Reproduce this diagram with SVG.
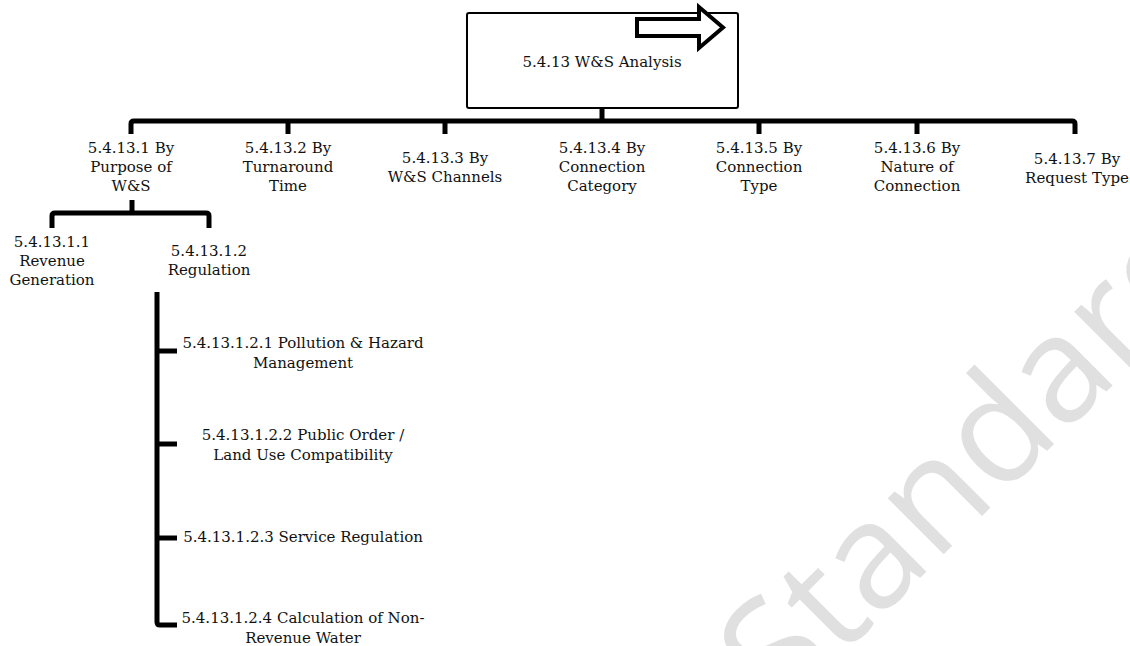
<svg xmlns="http://www.w3.org/2000/svg" width="1130" height="646" viewBox="0 0 1130 646">
<style>
.t{font-family:"DejaVu Serif","Liberation Serif",serif;font-size:15px;fill:#111;text-anchor:middle}
.c{fill:none;stroke:#000;stroke-width:5}
.wm{font-family:"Open Sans","Noto Sans",sans-serif;font-size:148px;fill:#e0e0e0}
</style>
<rect width="1130" height="646" fill="#fff"/>
<text class="wm" transform="translate(782,716) rotate(-45)">Standard</text>
<g id="connectors">
<line class="c" x1="602" y1="108" x2="602" y2="121"/>
<path class="c" d="M131,134 V124 Q131,121 134,121 H1072 Q1075,121 1075,124 V134"/>
<line class="c" x1="288" y1="121" x2="288" y2="134"/>
<line class="c" x1="445" y1="121" x2="445" y2="134"/>
<line class="c" x1="759" y1="121" x2="759" y2="134"/>
<line class="c" x1="917" y1="121" x2="917" y2="134"/>
<line class="c" x1="132" y1="200" x2="132" y2="213"/>
<path class="c" d="M52,228 V216 Q52,213 55,213 H206 Q209,213 209,216 V228"/>
<path class="c" d="M157,292 V622 Q157,625 160,625 H177"/>
<line class="c" x1="157" y1="351" x2="177" y2="351"/>
<line class="c" x1="157" y1="444" x2="177" y2="444"/>
<line class="c" x1="157" y1="538" x2="177" y2="538"/>
</g>
<g id="root">
<rect x="467" y="13" width="271" height="95" rx="2" fill="#fff" stroke="#000" stroke-width="2"/>
<path d="M637,19 H699 V7 L723,27.5 L699,48 V36 H637 Z" fill="#fff" stroke="#000" stroke-width="4" stroke-linejoin="miter"/>
<text class="t" x="602" y="67">5.4.13 W&amp;S Analysis</text>
</g>
<g id="n1"><text class="t" x="131" y="153">5.4.13.1 By</text><text class="t" x="131" y="172">Purpose of</text><text class="t" x="131" y="191">W&amp;S</text></g>
<g id="n2"><text class="t" x="288" y="153">5.4.13.2 By</text><text class="t" x="288" y="172">Turnaround</text><text class="t" x="288" y="191">Time</text></g>
<g id="n3"><text class="t" x="445" y="163">5.4.13.3 By</text><text class="t" x="445" y="182">W&amp;S Channels</text></g>
<g id="n4"><text class="t" x="602" y="153">5.4.13.4 By</text><text class="t" x="602" y="172">Connection</text><text class="t" x="602" y="191">Category</text></g>
<g id="n5"><text class="t" x="759" y="153">5.4.13.5 By</text><text class="t" x="759" y="172">Connection</text><text class="t" x="759" y="191">Type</text></g>
<g id="n6"><text class="t" x="917" y="153">5.4.13.6 By</text><text class="t" x="917" y="172">Nature of</text><text class="t" x="917" y="191">Connection</text></g>
<g id="n7"><text class="t" x="1077" y="164">5.4.13.7 By</text><text class="t" x="1077" y="183">Request Type</text></g>
<g id="n11"><text class="t" x="52" y="247">5.4.13.1.1</text><text class="t" x="52" y="266">Revenue</text><text class="t" x="52" y="285">Generation</text></g>
<g id="n12"><text class="t" x="209" y="256">5.4.13.1.2</text><text class="t" x="209" y="275">Regulation</text></g>
<g id="n121"><text class="t" x="303" y="348">5.4.13.1.2.1 Pollution &amp; Hazard</text><text class="t" x="303" y="368">Management</text></g>
<g id="n122"><text class="t" x="303" y="440">5.4.13.1.2.2 Public Order /</text><text class="t" x="303" y="460">Land Use Compatibility</text></g>
<g id="n123"><text class="t" x="303" y="542">5.4.13.1.2.3 Service Regulation</text></g>
<g id="n124"><text class="t" x="303" y="623">5.4.13.1.2.4 Calculation of Non-</text><text class="t" x="303" y="643">Revenue Water</text></g>
</svg>
